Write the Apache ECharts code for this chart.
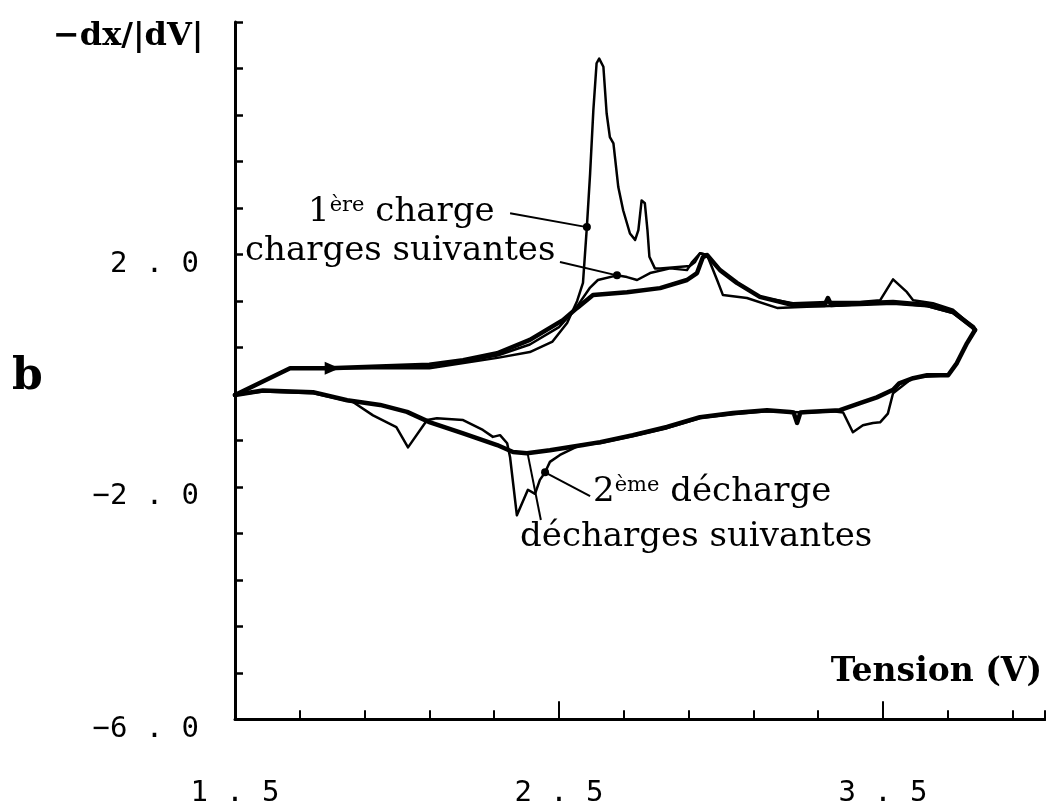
<!DOCTYPE html>
<html><head><meta charset="utf-8">
<script src="https://cdn.jsdelivr.net/npm/echarts@6/dist/echarts.min.js"></script>
<style>html,body{margin:0;padding:0;background:#fff}#c{width:1046px;height:808px}</style>
</head><body><div id="c"></div>
<script>
// ---- tick labels ----
const xTickLabels = [1.5, 2.5, 3.5];
const yTickLabels = [-6.0, -2.0, 2.0];

// ---- series values [Tension (V), -dx/|dV|] ----
const firstCharge = [
  [1.50,-0.42],[1.67,0.04],[1.79,0.04],[2.10,0.04],[2.31,0.22],[2.41,0.32],[2.48,0.50],[2.525,0.82],
  [2.556,1.20],[2.574,1.51],[2.586,2.47],[2.596,3.39],[2.606,4.48],[2.616,5.29],[2.624,5.37],[2.637,5.23],
  [2.647,4.43],[2.657,4.02],[2.668,3.91],[2.683,3.16],[2.698,2.76],[2.719,2.36],[2.735,2.25],[2.745,2.42],
  [2.755,2.93],[2.765,2.88],[2.773,2.42],[2.779,1.96],[2.796,1.76],[2.812,1.76],[2.904,1.80],[2.920,1.87],
  [2.935,2.02],[2.957,1.99],[2.997,1.73],[3.059,1.47],[3.120,1.27],[3.222,1.16],[3.327,1.18],[3.429,1.18],
  [3.491,1.21],[3.531,1.57],[3.574,1.35],[3.593,1.21],[3.654,1.16],[3.716,1.05],[3.778,0.75],[3.784,0.70]
];
const laterChargeThin = [
  [1.50,-0.42],[1.67,0.04],[1.79,0.04],[2.10,0.08],[2.20,0.15],[2.31,0.26],[2.41,0.45],[2.50,0.75],
  [2.549,1.05],[2.596,1.43],[2.620,1.56],[2.679,1.64],[2.710,1.61],[2.741,1.56],[2.781,1.68],[2.843,1.76],
  [2.895,1.73],[2.911,1.87],[2.935,2.02],[2.957,1.99],[2.988,1.56],[3.006,1.30],[3.080,1.25],[3.173,1.08],
  [3.265,1.10],[3.429,1.13],[3.531,1.15],[3.636,1.11],[3.716,0.99],[3.778,0.72],[3.784,0.70]
];
const laterChargeThick = [
  [1.50,-0.42],[1.67,0.04],[1.79,0.04],[2.10,0.10],[2.204,0.18],[2.309,0.30],[2.410,0.53],[2.512,0.87],
  [2.556,1.08],[2.605,1.30],[2.710,1.35],[2.812,1.42],[2.895,1.56],[2.926,1.68],[2.944,1.95],[2.957,1.99],
  [2.997,1.73],[3.049,1.51],[3.120,1.27],[3.222,1.13],[3.320,1.13],[3.330,1.25],[3.340,1.13],[3.429,1.16],
  [3.531,1.18],[3.636,1.13],[3.716,1.01],[3.778,0.75],[3.784,0.70]
];
const secondDischarge = [
  [3.784,0.70],[3.759,0.47],[3.728,0.13],[3.701,-0.08],[3.593,-0.12],[3.531,-0.39],[3.515,-0.74],[3.491,-0.89],
  [3.469,-0.90],[3.438,-0.94],[3.407,-1.06],[3.377,-0.72],[3.346,-0.70],[3.265,-0.72],[3.142,-0.70],[3.037,-0.75],
  [2.935,-0.82],[2.833,-0.99],[2.728,-1.13],[2.627,-1.25],[2.565,-1.28],[2.503,-1.45],[2.472,-1.57],[2.457,-1.75],
  [2.441,-1.88],[2.426,-2.12],[2.404,-2.05],[2.370,-2.49],[2.349,-1.49],[2.340,-1.25],[2.318,-1.11],[2.296,-1.14],
  [2.265,-1.02],[2.204,-0.85],[2.123,-0.82],[2.093,-0.85],[2.034,-1.32],[1.998,-0.97],[1.926,-0.77],[1.864,-0.54],
  [1.741,-0.39],[1.586,-0.36],[1.50,-0.42]
];
const laterDischarge = [
  [3.784,0.70],[3.759,0.47],[3.728,0.13],[3.701,-0.08],[3.636,-0.08],[3.593,-0.13],[3.550,-0.22],[3.531,-0.33],
  [3.481,-0.46],[3.429,-0.56],[3.367,-0.68],[3.265,-0.71],[3.245,-0.72],[3.235,-0.90],[3.224,-0.72],[3.213,-0.71],
  [3.142,-0.68],[3.037,-0.73],[2.935,-0.80],[2.833,-0.97],[2.728,-1.11],[2.627,-1.23],[2.574,-1.28],[2.472,-1.37],
  [2.401,-1.42],[2.358,-1.40],[2.309,-1.28],[2.204,-1.08],[2.102,-0.89],[2.031,-0.71],[1.948,-0.59],[1.846,-0.51],
  [1.741,-0.37],[1.586,-0.34],[1.50,-0.42]
];

// ---- annotation anchors (data units) ----
const leaderFirstCharge = [[2.349,2.71],[2.586,2.47]];
const leaderLaterCharges = [[2.503,1.87],[2.679,1.64]];
const leaderSecondDischarge = [[2.596,-2.16],[2.457,-1.75]];
const leaderLaterDischarges = [[2.444,-2.57],[2.404,-1.45]];
const dotPoints = [[2.586,2.47],[2.679,1.64],[2.457,-1.75]];
const arrowPoint = [1.80,0.04];

const K = '#000';
function fmt(v){
  const s = v.toFixed(1).replace('-', '\u2212');
  const parts = s.split('.');
  return '{d|' + parts[0] + '}{p|.}{d|' + parts[1] + '}';
}
const numRich = {
  d: {fontFamily:'DejaVu Sans Mono', fontSize:29, color:K},
  p: {fontFamily:'DejaVu Sans Mono', fontSize:29, color:K, width:54, align:'center'}
};
function near(list, v){ return list.some(t => Math.abs(t - v) < 1e-6); }

const chart = echarts.init(document.getElementById('c'), null, {renderer:'canvas'});
const serifN = 'DejaVu Serif';

function lineSeries(name, data, width, extra){
  return Object.assign({
    name, type:'line', data, xAxisIndex:0, yAxisIndex:0,
    symbol:'none', smooth:false, animation:false, silent:true,
    lineStyle:{color:K, width, join:'round', cap:'round'}
  }, extra || {});
}
function ml(pair){ return [{coord:pair[0]},{coord:pair[1]}]; }

chart.setOption({
  animation:false,
  backgroundColor:'#fff',
  grid:[
    {left:235, top:22, width:810, height:697.3, outerBoundsMode:'none', containLabel:false},
    {left:235, top:22, width:972, height:697.3, outerBoundsMode:'none', containLabel:false}
  ],
  xAxis:[
    {gridIndex:0, type:'value', min:1.5, max:4.0, interval:0.2,
      axisLine:{show:true, onZero:false, lineStyle:{color:K, width:3}},
      axisTick:{show:true, inside:true, length:9, lineStyle:{color:K, width:2}},
      axisLabel:{show:false}, splitLine:{show:false}},
    {gridIndex:1, type:'value', min:1.5, max:4.5, interval:1.0,
      axisLine:{show:false, onZero:false},
      axisTick:{show:true, inside:true, length:18, lineStyle:{color:K, width:2}},
      axisLabel:{show:true, margin:60, formatter:v => near(xTickLabels, v) ? fmt(v) : '', rich:numRich},
      splitLine:{show:false}}
  ],
  yAxis:[
    {gridIndex:0, type:'value', min:-6, max:6, interval:0.8,
      axisLine:{show:true, onZero:false, lineStyle:{color:K, width:3}},
      axisTick:{show:true, inside:true, length:8, lineStyle:{color:K, width:2.5}},
      axisLabel:{show:true, margin:36, padding:[20,0,0,0], verticalAlign:'middle',
        formatter:v => near(yTickLabels, v) ? fmt(v) : '', rich:numRich},
      splitLine:{show:false}},
    {gridIndex:1, type:'value', min:-6, max:6, show:false}
  ],
  series:[
    lineSeries('décharges suivantes', laterDischarge, 4.5),
    lineSeries('2ème décharge', secondDischarge, 2.5, {
      markLine:{silent:true, symbol:['none','none'], animation:false, label:{show:false},
        lineStyle:{color:K, width:2, type:'solid'},
        data:[ml(leaderFirstCharge), ml(leaderLaterCharges), ml(leaderSecondDischarge), ml(leaderLaterDischarges)]},
      markPoint:{silent:true, animation:false, symbol:'circle', symbolSize:8, label:{show:false},
        itemStyle:{color:K}, data:dotPoints.map(p => ({coord:p}))}
    }),
    lineSeries('charges suivantes (fin)', laterChargeThin, 2.5),
    lineSeries('charges suivantes', laterChargeThick, 4.5, {
      markPoint:{silent:true, animation:false, label:{show:false}, itemStyle:{color:K},
        data:[{coord:arrowPoint, symbol:'triangle', symbolRotate:-90, symbolSize:[13,15]}]}
    }),
    lineSeries('1ère charge', firstCharge, 2.5)
  ],
  graphic:[
    {type:'text', x:53, y:37, style:{text:'\u2212dx/|dV|', fill:K, font:'bold 32px "DejaVu Serif"', align:'left', verticalAlign:'middle'}},
    {type:'text', x:12, y:378, style:{text:'b', fill:K, font:'bold 44px "DejaVu Serif"', align:'left', verticalAlign:'middle'}},
    {type:'text', x:1042, y:672, style:{text:'Tension (V)', fill:K, font:'bold 33px "DejaVu Serif"', align:'right', verticalAlign:'middle'}},
    {type:'text', x:308, y:212, style:{text:'{n|1}{s|ère}{n| charge}', fill:K, align:'left', verticalAlign:'middle',
      rich:{n:{fontFamily:serifN, fontSize:34, color:K}, s:{fontFamily:serifN, fontSize:21, color:K, verticalAlign:'top'}}}},
    {type:'text', x:245, y:251, style:{text:'charges suivantes', fill:K, font:'34px "DejaVu Serif"', align:'left', verticalAlign:'middle'}},
    {type:'text', x:593, y:492, style:{text:'{n|2}{s|ème}{n| décharge}', fill:K, align:'left', verticalAlign:'middle',
      rich:{n:{fontFamily:serifN, fontSize:34, color:K}, s:{fontFamily:serifN, fontSize:21, color:K, verticalAlign:'top'}}}},
    {type:'text', x:520, y:537, style:{text:'décharges suivantes', fill:K, font:'34px "DejaVu Serif"', align:'left', verticalAlign:'middle'}}
  ]
});
</script>
</body></html>
